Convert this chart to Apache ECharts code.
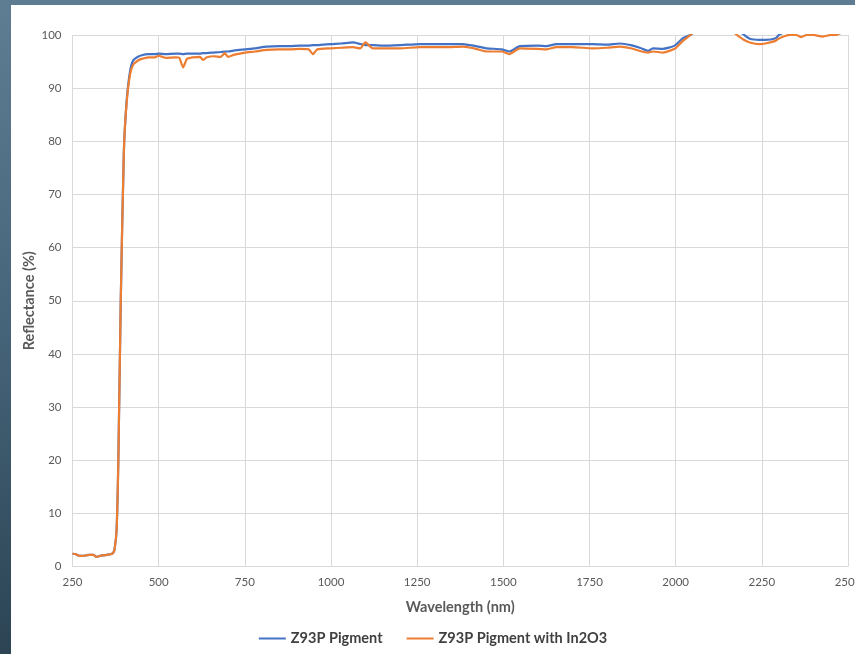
<!DOCTYPE html>
<html>
<head>
<meta charset="utf-8">
<script src="https://cdn.jsdelivr.net/npm/echarts@6/dist/echarts.min.js"></script>
<style>
    html,body{margin:0;padding:0;width:855px;height:654px;overflow:hidden;}
    body{background:linear-gradient(180deg,#5e7d93 0%,#466479 50%,#2c4454 100%);}
    #chart{position:absolute;left:11px;top:5px;width:844px;height:649px;background:#fff;}
</style>
</head>
<body>
<div id="chart"></div>
<script>
// 波长 (nm)
var wavelength = [250,260,270,280,290,300,310,320,330,340,350,360,367,372,378,383,390,399,407,417,
    426,440,451,470,489,500,520,550,560,571,582,600,620,628,640,660,680,692,701,720,
    750,780,813,850,880,910,935,948,960,1000,1030,1064,1085,1100,1121,1150,1200,1258,1300,1340,
    1383,1420,1451,1495,1517,1548,1600,1625,1654,1700,1760,1800,1838,1870,1896,1920,1934,1963,1997,2021,
    2045,2060,2100,2150,2176,2195,2215,2243,2260,2290,2301,2331,2350,2364,2380,2400,2427,2450,2466,2480,2500];

// Z93P Pigment
var pigment = [2.4,2.3,2.0,2.0,2.1,2.2,2.2,1.8,2.0,2.1,2.2,2.3,2.5,3.2,7,20,50,78,87.5,93.2,
    95.2,95.9,96.2,96.4,96.4,96.5,96.4,96.5,96.5,96.4,96.5,96.5,96.5,96.6,96.6,96.7,96.8,96.9,96.9,97.1,
    97.3,97.5,97.8,97.9,97.9,98.0,98.0,98.1,98.1,98.3,98.4,98.6,98.3,98.1,98.1,98.0,98.1,98.3,98.3,98.3,
    98.3,97.9,97.5,97.3,96.9,97.9,98.0,97.9,98.3,98.3,98.3,98.2,98.4,98.1,97.6,97.0,97.5,97.4,98.0,99.4,
    100.1,101,101.5,101.5,101.2,100.2,99.3,99.1,99.1,99.4,100.1,100.8,101,101,101,101,101,101,101,101,101];

// Z93P Pigment with In2O3
var pigmentIn2O3 = [2.4,2.3,2.0,2.0,2.1,2.2,2.2,1.8,2.0,2.1,2.2,2.3,2.5,3.2,7,20,50,78,87.2,92.6,
    94.4,95.2,95.5,95.8,95.8,96.1,95.7,95.8,95.7,93.9,95.5,95.8,95.9,95.3,95.8,96.0,95.9,96.6,95.9,96.3,
    96.7,96.9,97.2,97.3,97.3,97.4,97.3,96.4,97.3,97.5,97.6,97.7,97.5,98.6,97.5,97.5,97.5,97.7,97.7,97.7,
    97.8,97.4,96.9,96.9,96.4,97.5,97.4,97.3,97.7,97.7,97.5,97.6,97.8,97.5,97.0,96.7,96.9,96.7,97.4,98.9,
    100.1,101,101.5,101.5,100.1,99.2,98.6,98.3,98.4,98.9,99.4,100.0,100.0,99.6,100.0,100.0,99.7,100.0,100.0,100.4,100.5];

var xTicks = {min:250,max:2500,step:250};
var yTicks = {min:0,max:100,step:10};

function pairs(ys){
    var out = [];
    for(var i = 0;i < wavelength.length;i++){
        out.push([wavelength[i],ys[i]]);
    }
    return out;
}

var font = 'Lato, "Open Sans", sans-serif';
var myChart = echarts.init(document.getElementById('chart'));
var option = {
    animation:false,
    textStyle:{fontFamily:font},
    grid:{left:61.5,right:7,top:30,bottom:87.5,containLabel:false,outerBoundsMode:'none'},
    legend:{
        bottom:3,
        left:'center',
        icon:'rect',
        itemWidth:27,
        itemHeight:2,
        itemGap:24,
        textStyle:{fontFamily:font,fontSize:14.5,fontWeight:'bold',color:'#404040'},
        data:['Z93P Pigment','Z93P Pigment with In2O3']
    },
    xAxis:{
        type:'value',
        min:xTicks.min,max:xTicks.max,interval:xTicks.step,
        name:'Wavelength (nm)',
        nameLocation:'middle',
        nameGap:33,
        nameMoveOverlap:false,
        nameTextStyle:{fontFamily:font,fontSize:14.5,fontWeight:'bold',color:'#595959'},
        axisLine:{lineStyle:{color:'#d9d9d9'}},
        axisTick:{show:false},
        axisLabel:{color:'#595959',fontSize:11.5,margin:10,formatter:function(v){return String(v);}},
        splitLine:{show:true,lineStyle:{color:'#d9d9d9'}}
    },
    yAxis:{
        type:'value',
        min:yTicks.min,max:yTicks.max,interval:yTicks.step,
        name:'Reflectance (%)',
        nameLocation:'middle',
        nameGap:36,
        nameMoveOverlap:false,
        nameTextStyle:{fontFamily:font,fontSize:14.5,fontWeight:'bold',color:'#595959'},
        axisLine:{show:false},
        axisTick:{show:false},
        axisLabel:{color:'#595959',fontSize:11.5,margin:11},
        splitLine:{show:true,lineStyle:{color:'#d9d9d9'}}
    },
    series:[{
        name:'Z93P Pigment',
        type:'line',
        data:pairs(pigment),
        showSymbol:false,
        symbol:'none',
        clip:true,
        smooth:0.2,
        lineStyle:{width:2.2,color:'#4472C4'},
        itemStyle:{color:'#4472C4'}
    },{
        name:'Z93P Pigment with In2O3',
        type:'line',
        data:pairs(pigmentIn2O3),
        showSymbol:false,
        symbol:'none',
        clip:true,
        smooth:0.2,
        lineStyle:{width:2.2,color:'#ED7D31'},
        itemStyle:{color:'#ED7D31'}
    }]
};
myChart.setOption(option);
</script>
</body>
</html>
